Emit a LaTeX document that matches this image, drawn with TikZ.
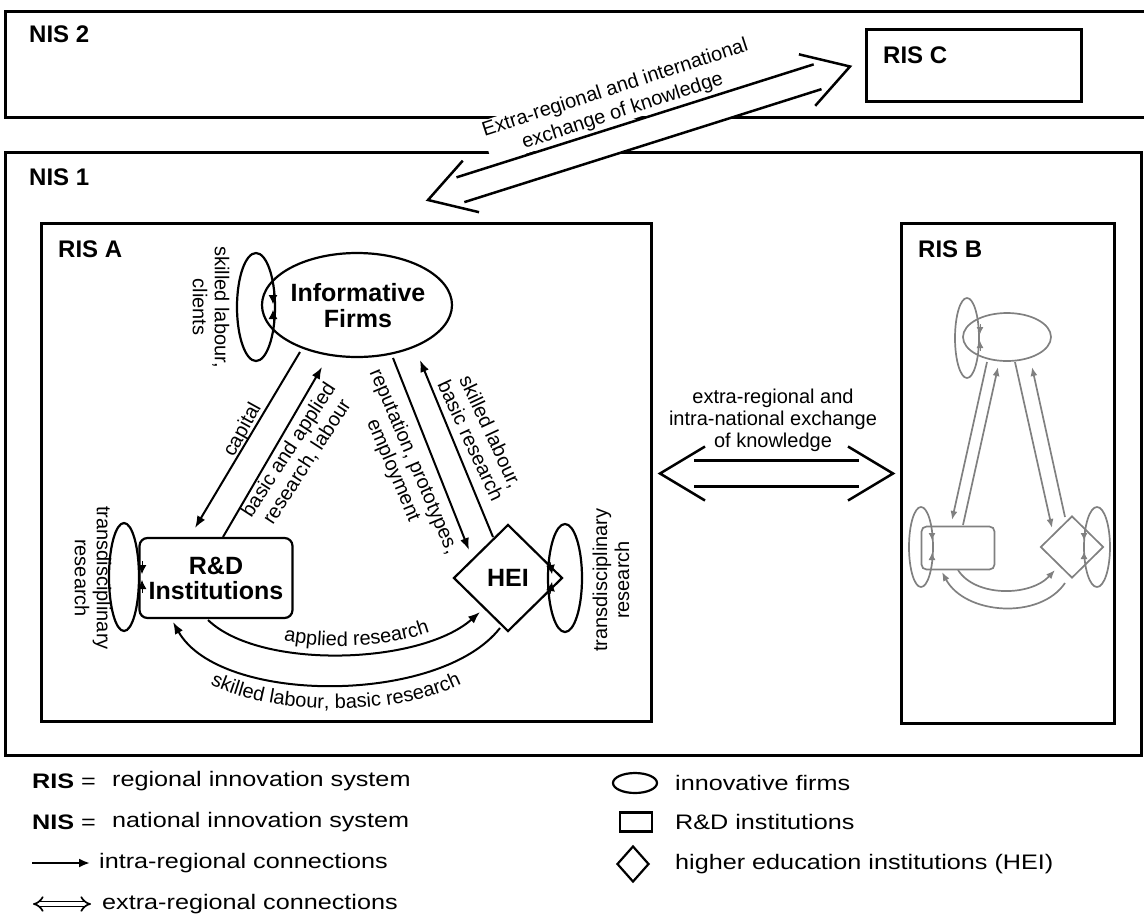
\documentclass[tikz,border=0pt]{standalone}
\usepackage{fontspec}
\setmainfont{Liberation Sans}
\newfontfamily\legfont[FakeStretch=1.2]{Liberation Sans}
\usetikzlibrary{shapes.geometric,arrows.meta,calc,decorations.text}
\newcommand\lblsize{\fontsize{20}{22}\selectfont}
% white body of a wide double-line arrow between two coordinates
\newcommand\dblbody[2]{%
  \fill[white] ($(#1)!34pt!(#2)!13pt!90:(#2)$) -- ($(#2)!34pt!(#1)!13pt!-90:(#1)$)
    -- ($(#2)!34pt!(#1)!13pt!90:(#1)$) -- ($(#1)!34pt!(#2)!13pt!-90:(#2)$) -- cycle;}
% strokes of a wide double-line arrow with open chevron heads
\newcommand\dblstroke[2]{%
  \draw[xline] ($(#1)!34pt!(#2)!13pt!90:(#2)$) -- ($(#2)!34pt!(#1)!13pt!-90:(#1)$);
  \draw[xline] ($(#1)!34pt!(#2)!13pt!-90:(#2)$) -- ($(#2)!34pt!(#1)!13pt!90:(#1)$);
  \draw[xline] ($(#1)!45pt!(#2)!27pt!90:(#2)$) -- (#1) -- ($(#1)!45pt!(#2)!27pt!-90:(#2)$);
  \draw[xline] ($(#2)!45pt!(#1)!27pt!90:(#1)$) -- (#2) -- ($(#2)!45pt!(#1)!27pt!-90:(#1)$);}
\begin{document}
\begin{tikzpicture}[x=1pt,y=-1pt,
  box/.style={draw, line width=3pt, inner sep=0pt},
  arr/.style={-{Latex[length=12pt,width=9pt]}, line width=2pt},
  tiny/.style={-{Latex[length=9pt,width=9pt]}, line width=1pt},
  ent/.style={draw, line width=2.2pt, inner sep=0pt},
  lbl/.style={font=\lblsize, align=center, inner sep=0pt},
  ttl/.style={font=\bfseries\fontsize{24}{26}\selectfont, inner sep=0pt, anchor=base west},
  bold/.style={font=\bfseries\fontsize{25}{25}\selectfont, align=center},
  gent/.style={draw=black!50, line width=1.7pt, inner sep=0pt},
  garr/.style={draw=black!50, -{Latex[length=9pt,width=7pt]}, line width=1.7pt},
  gtiny/.style={draw=black!50, fill=black!50, -{Latex[length=7pt,width=7pt]}, line width=0.8pt},
  xline/.style={line width=2.5pt},
  leg/.style={font=\legfont\fontsize{21}{24}\selectfont, anchor=west, inner sep=0pt}
]
\useasboundingbox (0,0) rectangle (1144,922);

% ---------- national systems ----------
\draw[line width=3pt] (1144,11) -- (5,11) -- (5,117) -- (1144,117);
\node[ttl] (nis2) at (29,42) {NIS 2};
\node[box, minimum width=215, minimum height=72, anchor=north west] (risc) at (865,28) {};
\node[ttl] (riscl) at (883,63) {RIS C};
\draw[line width=3pt] (5,152) rectangle (1141,755);
\node[ttl] (nis1) at (29,185) {NIS 1};

% ---------- regional systems ----------
\node[box, minimum width=610, minimum height=498, anchor=north west] (risa) at (40,222) {};
\node[ttl] (risal) at (58,257) {RIS A};
\node[box, minimum width=213, minimum height=500, anchor=north west] (risb) at (900,222) {};
\node[ttl] (risbl) at (918,257) {RIS B};

% ---------- extra-regional, international exchange ----------
\coordinate (xa) at (428,200);
\coordinate (xb) at ($(risc.west)+(-15,1)$);
\dblbody{xa}{xb}
\node[lbl, font=\fontsize{20}{24}\selectfont, rotate=18, fill=white, inner sep=1pt] (xlab) at (619,100)
  {Extra-regional and international\\exchange of knowledge};
\dblstroke{xa}{xb}

% ---------- extra-regional, intra-national exchange ----------
\coordinate (ya) at ($(risa.east)+(7,1)$);
\coordinate (yb) at ($(risb.west)+(-7,0)$);
\dblbody{ya}{yb}
\dblstroke{ya}{yb}
\node[lbl] (ylab) at (773,420) {extra-regional and\\intra-national exchange\\of knowledge};

% ---------- RIS A network ----------
\node[ent, ellipse, minimum width=190, minimum height=104] (if) at (357,305) {};
\node[bold, font=\bfseries\fontsize{25}{26}\selectfont] (ift) at (358,306) {Informative\\Firms};
\node[ent, ellipse, minimum width=38, minimum height=108] (ifl) at (256,307) {};
\draw[tiny] ($(ifl)+(17,-16)$) -- ($(ifl)+(17,-3)$);
\draw[tiny] ($(ifl)+(17,16)$) -- ($(ifl)+(17,3)$);
\node[lbl, rotate=-90] (ifll) at (211,307) {skilled labour,\\clients};

\node[ent, rectangle, rounded corners=8pt, minimum width=153, minimum height=80, bold] (rd) at (216,578) {R\&D\\Institutions};
\node[ent, ellipse, minimum width=30, minimum height=108] (rdl) at (124,577) {};
\draw[tiny] ($(rdl)+(18,-16)$) -- ($(rdl)+(18,-3)$);
\draw[tiny] ($(rdl)+(18,16)$) -- ($(rdl)+(18,3)$);
\node[lbl, rotate=-90] (rdll) at (93,578) {transdisciplinary\\research};

\node[ent, diamond, aspect=1, minimum width=109, minimum height=107, bold] (hei) at (508,578) {HEI};
\node[ent, ellipse, minimum width=34, minimum height=108] (heir) at (565,578) {};
\draw[tiny] ($(heir)+(-15,-16)$) -- ($(heir)+(-13,-4)$);
\draw[tiny] ($(heir)+(-15,16)$) -- ($(heir)+(-13,4)$);
\node[lbl, rotate=90] (heirl) at (611,580) {transdisciplinary\\research};

\draw[arr] ($(if)+(-57,47)$) -- ($(rd)+(-21,-50)$);
\draw[arr] ($(rd)+(7,-41)$) -- ($(if)+(-35,62)$);
\draw[arr] ($(if)+(36,53)$) -- ($(hei)+(-39,-28)$);
\draw[arr] ($(hei)+(-15,-41)$) -- ($(if)+(63,55)$);
\node[lbl, rotate=61] (l1) at (243,430) {capital};
\node[lbl, rotate=57] (l2) at (298,456) {basic and applied\\research, labour};
\node[lbl, rotate=-67] (l3) at (403,466) {reputation, prototypes,\\employment};
\node[lbl, rotate=-65] (l4) at (481,436) {skilled labour,\\basic research};

\draw[arr] ($(rd)+(-8,42)$) .. controls (260,670) and (420,665) .. ($(hei)+(-28,34)$);
\draw[arr] ($(hei)+(-8,50)$) .. controls (440,705) and (220,705) .. ($(rd)+(-43,44)$);
\path[decorate, decoration={text along path, text align=center,
  text={|\lblsize|applied research}}]
  (240,626) .. controls (290,655) and (420,655) .. (470,610);
\path[decorate, decoration={text along path, text align=center,
  text={|\lblsize|skilled labour, basic research}}]
  (185,668) .. controls (245,722) and (425,722) .. (487,668);

% ---------- RIS B network (grey) ----------
\node[gent, ellipse, minimum width=88, minimum height=48] (bf) at (1007,337) {};
\node[gent, ellipse, minimum width=24, minimum height=80] (bfl) at (967,338) {};
\node[gent, rectangle, rounded corners=5pt, minimum width=73, minimum height=43] (br) at (958,548) {};
\node[gent, ellipse, minimum width=24, minimum height=80] (brl) at (921,547) {};
\node[gent, diamond, aspect=1, minimum width=63, minimum height=62] (bh) at (1072,547) {};
\node[gent, ellipse, minimum width=26, minimum height=80] (bhr) at (1097,547) {};
\draw[gtiny] ($(bfl)+(13,-14)$) -- ($(bfl)+(13,-4)$);
\draw[gtiny] ($(bfl)+(13,13)$) -- ($(bfl)+(13,3)$);
\draw[gtiny] ($(brl)+(11,-17)$) -- ($(brl)+(11,-7)$);
\draw[gtiny] ($(brl)+(11,16)$) -- ($(brl)+(11,6)$);
\draw[gtiny] ($(bhr)+(-13,-17)$) -- ($(bhr)+(-13,-7)$);
\draw[gtiny] ($(bhr)+(-13,15)$) -- ($(bhr)+(-13,5)$);
\draw[garr] ($(bf)+(-20,25)$) -- ($(br)+(-6,-28)$);
\draw[garr] ($(br)+(5,-23)$) -- ($(bf)+(-9,30)$);
\draw[garr] ($(bf)+(8,25)$) -- ($(bh)+(-20,-19)$);
\draw[garr] ($(bh)+(-7,-30)$) -- ($(bf)+(25,30)$);
\draw[garr] ($(br)+(0,22)$) .. controls (975,597) and (1030,597) .. ($(bh)+(-17,23)$);
\draw[garr] ($(bh)+(-7,36)$) .. controls (1040,620) and (965,615) .. ($(br)+(-16,24)$);

% ---------- legend ----------
\node[leg] (k1) at (32,781) {\bfseries RIS\mdseries\ =};
\node[leg] (k1t) at (112,781) {regional innovation system};
\node[leg] (k2) at (32,822) {\bfseries NIS\mdseries\ =};
\node[leg] (k2t) at (112,822) {national innovation system};
\coordinate (k3a) at (32,863);
\coordinate (k3b) at (90,863);
\draw[-{Latex[length=11pt,width=9pt]}, line width=2.2pt] (k3a) -- (k3b);
\node[leg] (k3t) at (99,863) {intra-regional connections};
\coordinate (k4a) at (33,904);
\coordinate (k4b) at (91,904);
\draw[double, double distance=3.5pt, line width=1.7pt, {Implies}-{Implies}] (k4a) -- (k4b);
\node[leg] (k4t) at (102,904) {extra-regional connections};

\node[ent, ellipse, minimum width=44, minimum height=20] (k5) at (635,783) {};
\node[leg] (k5t) at (675,783) {innovative firms};
\node[ent, rectangle, minimum width=32, minimum height=19] (k6) at (636,822) {};
\node[leg] (k6t) at (675,822) {R\&D institutions};
\node[ent, diamond, aspect=0.9, minimum width=32, minimum height=36] (k7) at (633,864) {};
\node[leg] (k7t) at (675,864) {higher education institutions (HEI)};
\end{tikzpicture}
\end{document}
